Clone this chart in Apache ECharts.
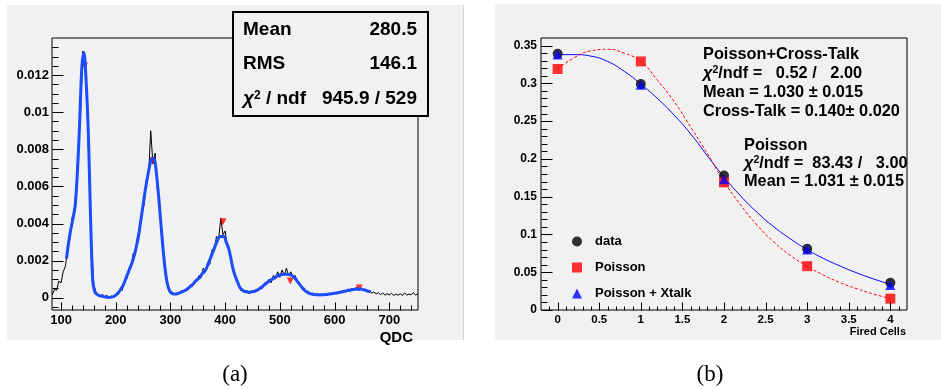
<!DOCTYPE html>
<html>
<head>
<meta charset="utf-8">
<script src="https://cdn.jsdelivr.net/npm/echarts@6/dist/echarts.min.js"></script>
<style>
  html, body { margin: 0; padding: 0; background: #fff; }
  .panel { position: absolute; background: #f1f1f1; z-index: 0; }
  #chart { position: absolute; left: 0; top: 0; width: 941px; height: 389px; z-index: 1; }
</style>
</head>
<body>
<div class="panel" style="left:7px;top:5px;width:456px;height:335px;border-right:1px solid #d4d4d4;"></div>
<div class="panel" style="left:495px;top:4px;width:446px;height:336px;"></div>
<div id="chart"></div>
<script>
// ---- (a) QDC spectrum: histogram bins from 84, 4 QDC wide ----
const qdcStart = 84, qdcStep = 4;
const qdcCounts = [
  0.00015, 0.00045, 0.0004, 0.0009, 0.0008, 0.0014, 0.0017, 0.0026, 0.0031, 0.0043,
  0.0046, 0.0062, 0.0083, 0.0102, 0.0133, 0.0122, 0.0104, 0.0061, 0.0028, 0.0007,
  0.0003, 0.0002, 0.00008, 0.00018, 0.00006, 0.00012, 0.00002, 0.0001, 0.00005, 0.0002,
  0.00015, 0.0005, 0.0004, 0.0009, 0.001, 0.0016, 0.0017, 0.0024, 0.0023, 0.0034,
  0.0036, 0.0048, 0.005, 0.0064, 0.0066, 0.009, 0.0072, 0.0078, 0.0058, 0.0053,
  0.0033, 0.0024, 0.0011, 0.0007, 0.0003, 0.0003, 0.00015, 0.00028, 0.0002, 0.00038,
  0.0003, 0.00048, 0.0004, 0.0007, 0.0006, 0.0009, 0.0009, 0.0012, 0.0011, 0.0016,
  0.0014, 0.0019, 0.0018, 0.0026, 0.0025, 0.0033, 0.0031, 0.0043, 0.0034, 0.0036,
  0.0027, 0.0026, 0.0017, 0.0015, 0.0009, 0.0008, 0.0004, 0.00045, 0.00028, 0.0004,
  0.00022, 0.0004, 0.00026, 0.00045, 0.00038, 0.0006, 0.0005, 0.0008, 0.0007, 0.001,
  0.0008, 0.0012, 0.001, 0.0014, 0.0011, 0.0015, 0.0012, 0.0016, 0.0012, 0.0014,
  0.0011, 0.0012, 0.0008, 0.0008, 0.0005, 0.00055, 0.0003, 0.00035, 0.00018, 0.00026,
  0.00012, 0.00022, 0.0001, 0.0002, 0.00013, 0.00024, 0.00014, 0.00026, 0.00018, 0.0003,
  0.0002, 0.00036, 0.00024, 0.0004, 0.0003, 0.00048, 0.00034, 0.00052, 0.0004, 0.00058,
  0.0004, 0.00055, 0.00038, 0.00048, 0.0003, 0.0004, 0.00024, 0.00032, 0.0002, 0.00028,
  0.00016, 0.00026, 0.00014, 0.00022, 0.00015, 0.00024, 0.00012, 0.0002, 0.00014, 0.00022,
  0.00012, 0.00026, 0.00014, 0.0002, 0.00016, 0.00028, 0.00014, 0.00022
];
// fit curve, sampled from 110 every 4 QDC
const fitStart = 110, fitStep = 4;
const fitValues = [
  0.0021, 0.003, 0.0037, 0.0043, 0.005, 0.0068, 0.0094, 0.0124, 0.0132, 0.0116,
  0.0088, 0.0043, 0.0009, 0.0003, 0.00018, 0.00012, 0.00009, 0.00006, 0.00004, 0.00002,
  0.00003, 0.00005, 0.0001, 0.0002, 0.00032, 0.0005, 0.0007, 0.001, 0.0013, 0.0016,
  0.0019, 0.0023, 0.0028, 0.0034, 0.0042, 0.005, 0.0058, 0.0065, 0.0071, 0.0075,
  0.0075, 0.0068, 0.0056, 0.0042, 0.0028, 0.0016, 0.0008, 0.0004, 0.00025, 0.0002,
  0.0002, 0.00024, 0.00028, 0.00033, 0.00038, 0.00045, 0.00055, 0.00065, 0.00075, 0.0009,
  0.001, 0.0011, 0.0013, 0.0014, 0.0016, 0.0019, 0.0022, 0.0025, 0.0028, 0.0031,
  0.0033, 0.0033, 0.0033, 0.003, 0.0027, 0.0022, 0.0016, 0.0012, 0.0009, 0.0006,
  0.00045, 0.00036, 0.00032, 0.0003, 0.0003, 0.00032, 0.00035, 0.0004, 0.00047, 0.00055,
  0.00065, 0.00075, 0.00085, 0.00093, 0.001, 0.00108, 0.00115, 0.0012, 0.00124, 0.00126,
  0.00127, 0.00127, 0.00124, 0.0012, 0.0011, 0.00097, 0.0008, 0.00065, 0.0005, 0.00038,
  0.0003, 0.00024, 0.0002, 0.00018, 0.00017, 0.00016, 0.00016, 0.00016, 0.00017, 0.00018,
  0.0002, 0.00021, 0.00023, 0.00025, 0.00027, 0.0003, 0.00032, 0.00035, 0.00037, 0.0004,
  0.00042, 0.00044, 0.00046, 0.00047, 0.00047, 0.00045, 0.00042, 0.00039, 0.00035, 0.00032
];
const peakQdc = [143, 267, 396, 519, 645];
const peakValues = [0.0125, 0.0074, 0.0041, 0.0009, 0.00053];
const qdcTicks = [100, 200, 300, 400, 500, 600, 700];
const qdcYTicks = [0, 0.002, 0.004, 0.006, 0.008, 0.01, 0.012];

// ---- (b) fired cells ----
const firedCells = [0, 1, 2, 3, 4];
const dataVals = [0.339, 0.299, 0.178, 0.081, 0.036];
const poissonVals = [0.319, 0.329, 0.169, 0.058, 0.015];
const xtalkVals = [0.338, 0.298, 0.173, 0.080, 0.033];
const curveX = [0, 0.2, 0.4, 0.6, 0.8, 1, 1.2, 1.4, 1.6, 1.8, 2, 2.2, 2.4, 2.6, 2.8, 3, 3.2, 3.4, 3.6, 3.8, 4];
const xtalkCurve = [0.338, 0.338, 0.336, 0.329, 0.316, 0.299, 0.280, 0.258, 0.233, 0.204, 0.176,
  0.151, 0.129, 0.110, 0.094, 0.080, 0.068, 0.058, 0.049, 0.041, 0.034];
const poissonCurve = [0.319, 0.334, 0.343, 0.345, 0.340, 0.329, 0.304, 0.276, 0.242, 0.207, 0.170,
  0.139, 0.112, 0.090, 0.072, 0.058, 0.046, 0.036, 0.028, 0.021, 0.015];
const cellTicks = [0, 0.5, 1, 1.5, 2, 2.5, 3, 3.5, 4];
const probTicks = [0, 0.05, 0.1, 0.15, 0.2, 0.25, 0.3, 0.35];

const font = "'Liberation Sans', Arial, sans-serif";
const serif = "'Liberation Serif', 'Times New Roman', serif";
const panelGrey = '#f1f1f1';

// plot frames and axis ranges
const grids = [
  { left: 52, top: 38, width: 366, height: 272 },
  { left: 541, top: 38, width: 366, height: 272 }
];
const qdcMin = 83.5, qdcMax = 752.5, densMin = -0.00066, densMax = 0.014;
const cellMin = -0.2, cellMax = 4.2, probMin = 0, probMax = 0.36;
const ranges = [
  { x: [qdcMin, qdcMax], y: [densMin, densMax] },
  { x: [cellMin, cellMax], y: [probMin, probMax] }
];

function range(a, b, step) {
  const out = [];
  for (let v = a; v <= b + step / 2; v += step) out.push(+v.toFixed(6));
  return out;
}
const fmt = v => String(parseFloat((+v).toFixed(6)));

function valueAxis(gridIndex, position, min, max, labels, labelSize, margin) {
  return {
    type: 'value', gridIndex, position, min, max,
    axisLine: { show: false, onZero: false },
    axisTick: { show: false },
    splitLine: { show: false },
    axisLabel: { show: true, customValues: labels, formatter: fmt, fontSize: labelSize, fontWeight: 'bold',
      fontFamily: font, color: '#000', margin }
  };
}

const chart = echarts.init(document.getElementById('chart'));

const txt = (x, y, text, size, extra) => ({
  type: 'text', x, y, z: 100,
  style: Object.assign({ text, fontSize: size, fontWeight: 'bold', fontFamily: font, fill: '#000',
    verticalAlign: 'middle' }, extra || {})
});
const chiRich = size => ({
  c: { fontSize: size, fontWeight: 'bold', fontStyle: 'italic', fontFamily: font, fill: '#000' },
  s: { fontSize: Math.round(size * 0.62), fontWeight: 'bold', fontFamily: font, fill: '#000', verticalAlign: 'top' },
  t: { fontSize: size, fontWeight: 'bold', fontFamily: font, fill: '#000' }
});

chart.setOption({
  animation: false,
  backgroundColor: 'transparent',
  grid: grids.map(g => Object.assign({ show: true, borderColor: '#000', borderWidth: 1, backgroundColor: 'transparent' }, g)),
  xAxis: [
    valueAxis(0, 'bottom', qdcMin, qdcMax, qdcTicks, 13, 4),
    valueAxis(1, 'bottom', cellMin, cellMax, cellTicks, 11.5, 4)
  ],
  yAxis: [
    valueAxis(0, 'left', densMin, densMax, qdcYTicks, 13, 3),
    valueAxis(1, 'left', probMin, probMax, probTicks, 12, 4)
  ],
  legend: {
    data: ['data', 'Poisson', 'Poisson + Xtalk'],
    orient: 'vertical', left: 567, top: 230,
    itemWidth: 10, itemHeight: 10, itemGap: 13,
    selectedMode: false,
    textStyle: { fontSize: 13, fontWeight: 'bold', fontFamily: font, color: '#000', padding: [0, 0, 0, 8] }
  },
  series: [
    {
      type: 'line', xAxisIndex: 0, yAxisIndex: 0, z: 2,
      data: qdcCounts.map((v, i) => [qdcStart + i * qdcStep, v]),
      showSymbol: false, lineStyle: { color: '#000', width: 1 }, itemStyle: { color: '#000' }
    },
    {
      type: 'scatter', xAxisIndex: 0, yAxisIndex: 0, z: 3,
      data: peakQdc.map((q, i) => [q, peakValues[i]]),
      symbol: 'triangle', symbolRotate: 180, symbolSize: 7, itemStyle: { color: '#ff0000' }
    },
    {
      type: 'line', xAxisIndex: 0, yAxisIndex: 0, z: 4, smooth: 0.3,
      data: fitValues.map((v, i) => [fitStart + i * fitStep, v]),
      showSymbol: false, lineStyle: { color: '#1a4dff', width: 3 }, itemStyle: { color: '#1a4dff' }
    },
    {
      type: 'line', xAxisIndex: 1, yAxisIndex: 1, z: 2, smooth: true,
      data: curveX.map((x, i) => [x, xtalkCurve[i]]),
      showSymbol: false, lineStyle: { color: '#0000ff', width: 1 }, itemStyle: { color: '#0000ff' }
    },
    {
      type: 'line', xAxisIndex: 1, yAxisIndex: 1, z: 2, smooth: true,
      data: curveX.map((x, i) => [x, poissonCurve[i]]),
      showSymbol: false, lineStyle: { color: '#ff0000', width: 1, type: [3, 2] }, itemStyle: { color: '#ff0000' }
    },
    {
      name: 'data', type: 'scatter', xAxisIndex: 1, yAxisIndex: 1, z: 5,
      data: firedCells.map((x, i) => [x, dataVals[i]]),
      symbol: 'circle', symbolSize: 10, itemStyle: { color: '#000' }
    },
    {
      name: 'Poisson', type: 'scatter', xAxisIndex: 1, yAxisIndex: 1, z: 6,
      data: firedCells.map((x, i) => [x, poissonVals[i]]),
      symbol: 'rect', symbolSize: 10, itemStyle: { color: '#ff0000' }
    },
    {
      name: 'Poisson + Xtalk', type: 'scatter', xAxisIndex: 1, yAxisIndex: 1, z: 7,
      data: firedCells.map((x, i) => [x, xtalkVals[i]]),
      symbol: 'triangle', symbolSize: 10, itemStyle: { color: '#0000ff' }
    }
  ]
});

// pixel position of a value pair; uses the chart's own axes, falls back to the frame mapping
function toPixel(i, pt) {
  let p = null;
  try { p = chart.convertToPixel({ xAxisIndex: i, yAxisIndex: i }, pt); } catch (e) { p = null; }
  if (!p || !isFinite(p[0]) || !isFinite(p[1])) {
    const g = grids[i], r = ranges[i];
    p = [g.left + (pt[0] - r.x[0]) / (r.x[1] - r.x[0]) * g.width,
         g.top + g.height - (pt[1] - r.y[0]) / (r.y[1] - r.y[0]) * g.height];
  }
  return p;
}

// ROOT style ticks inside the frame
function ticks(i, dir, values, len) {
  const at = dir === 'x' ? ranges[i].y[0] : ranges[i].x[0];
  return values.map(v => {
    const p = toPixel(i, dir === 'x' ? [v, at] : [at, v]);
    const x = Math.round(p[0]) + 0.5, y = Math.round(p[1]) + 0.5;
    return {
      type: 'line', z: 50, silent: true,
      shape: dir === 'x' ? { x1: x, y1: y, x2: x, y2: y - len } : { x1: x, y1: y, x2: x + len, y2: y },
      style: { stroke: '#000', lineWidth: 1 }
    };
  });
}

chart.setOption({
  graphic: [
    ...ticks(0, 'x', qdcTicks, 8),
    ...ticks(0, 'x', range(100, 740, 20), 5),
    ...ticks(0, 'y', qdcYTicks, 11),
    ...ticks(0, 'y', range(-0.0005, 0.0135, 0.0005), 6),
    ...ticks(1, 'x', cellTicks, 8),
    ...ticks(1, 'x', range(-0.1, 4.1, 0.1), 4),
    ...ticks(1, 'y', probTicks, 11),
    ...ticks(1, 'y', range(0.01, 0.35, 0.01), 6),
    // stats box
    { type: 'rect', z: 99, shape: { x: 233, y: 12, width: 195, height: 104 }, style: { fill: panelGrey, stroke: '#000', lineWidth: 2 } },
    txt(243, 30, 'Mean', 19),
    txt(417, 30, '280.5', 19, { align: 'right' }),
    txt(243, 64, 'RMS', 19),
    txt(417, 64, '146.1', 19, { align: 'right' }),
    txt(243, 99, '{c|χ}{s|2}{t| / ndf}', 19, { rich: chiRich(19) }),
    txt(417, 99, '945.9 / 529', 19, { align: 'right' }),
    txt(413, 338, 'QDC', 15, { align: 'right' }),
    // fit results
    Object.assign(txt(703, 54, 'Poisson+Cross-Talk', 17), { scaleX: 0.96 }),
    Object.assign(txt(703, 73, '{c|χ}{s|2}{t|/ndf =   0.52 /   2.00}', 17, { rich: chiRich(17) }), { scaleX: 0.96 }),
    Object.assign(txt(703, 92, 'Mean = 1.030 ± 0.015', 17), { scaleX: 0.96 }),
    Object.assign(txt(703, 111, 'Cross-Talk = 0.140± 0.020', 17), { scaleX: 0.96 }),
    Object.assign(txt(744, 145, 'Poisson', 17), { scaleX: 0.96 }),
    Object.assign(txt(744, 163, '{c|χ}{s|2}{t|/ndf =  83.43 /   3.00}', 17, { rich: chiRich(17) }), { scaleX: 0.96 }),
    Object.assign(txt(744, 181, 'Mean = 1.031 ± 0.015', 17), { scaleX: 0.96 }),
    txt(906, 332, 'Fired Cells', 11, { align: 'right' }),
    // captions
    { type: 'text', x: 235, y: 375, z: 100, style: { text: '(a)', fontSize: 23, fontFamily: serif, fill: '#000', align: 'center', verticalAlign: 'middle' } },
    { type: 'text', x: 710, y: 375, z: 100, style: { text: '(b)', fontSize: 23, fontFamily: serif, fill: '#000', align: 'center', verticalAlign: 'middle' } }
  ]
});
</script>
</body>
</html>
